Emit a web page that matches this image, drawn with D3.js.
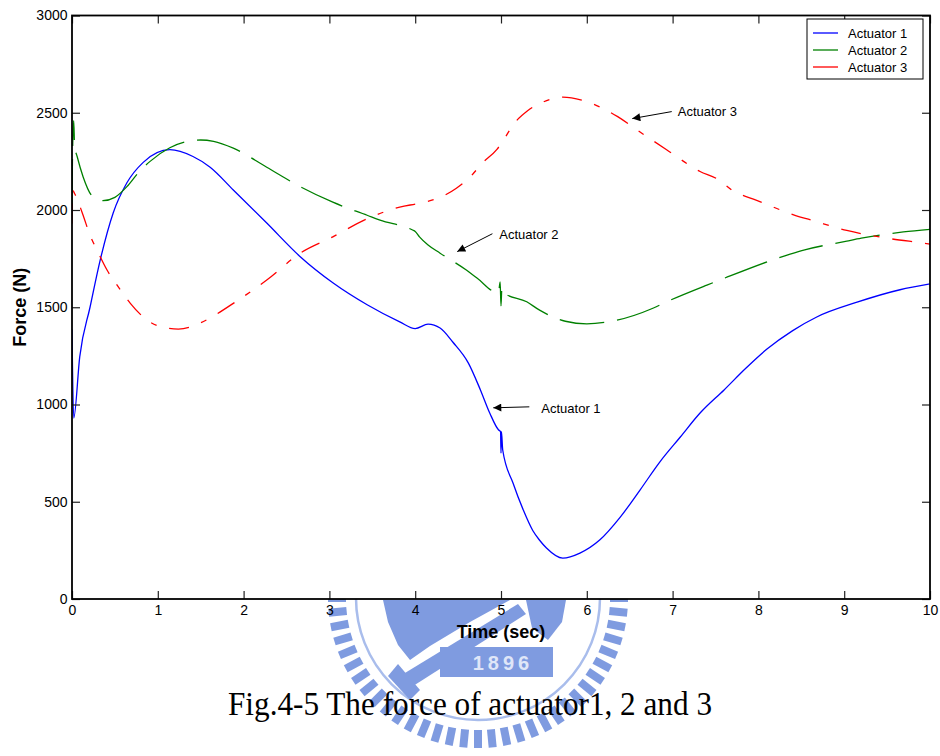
<!DOCTYPE html>
<html><head><meta charset="utf-8">
<script src="https://cdn.jsdelivr.net/npm/d3@7/dist/d3.min.js"></script>
<style>body{margin:0;background:#fff}svg{display:block}</style>
</head><body>
<svg id="c" width="940" height="756"></svg>
<script>
// ---------- data ----------
const seriesNames = ["Actuator 1", "Actuator 2", "Actuator 3"];
const seriesColors = ["#0000ff", "#008000", "#ff0000"];

// [time (sec), force (N)]
const act1 = [[0,1385],[0.02,930],[0.09,1245],[0.21,1500],[0.33,1745],[0.48,1985],[0.64,2140],[0.83,2245],
  [1.14,2310],[1.41,2275],[1.61,2220],[1.88,2103],[2.27,1933],[2.66,1760],[3.04,1626],[3.44,1513],[3.82,1425],
  [4.0,1390],[4.15,1413],[4.29,1393],[4.44,1320],[4.62,1213],[4.76,1075],[4.87,955],[4.97,870],[4.995,860],
  [5.0,750],[5.005,860],[5.02,766],[5.14,596],[5.26,457],[5.37,352],[5.45,302],[5.53,262],[5.72,210],[5.92,236],
  [6.15,303],[6.39,421],[6.62,560],[6.85,704],[7.09,833],[7.32,956],[7.6,1075],[7.85,1185],[8.1,1285],[8.4,1380],
  [8.68,1450],[9.15,1526],[9.65,1590],[10,1620]];
const act2 = [[0,2030],[0.005,2250],[0.02,2460],[0.03,2330],[0.06,2275],[0.13,2170],[0.25,2065],[0.36,2048],
  [0.5,2065],[0.64,2120],[0.77,2190],[0.91,2250],[1.14,2320],[1.34,2352],[1.5,2360],[1.65,2353],[1.88,2318],
  [2.27,2220],[2.66,2120],[3.04,2040],[3.44,1973],[3.59,1948],[3.97,1897],[4.0,1890],[4.05,1862],[4.15,1820],
  [4.29,1778],[4.6,1690],[4.72,1650],[4.97,1573],[4.99,1630],[5.0,1507],[5.01,1600],[5.03,1575],[5.3,1528],
  [5.45,1485],[5.75,1428],[6.0,1415],[6.25,1425],[6.77,1495],[6.93,1528],[7.4,1614],[7.55,1640],[8.37,1773],
  [8.54,1795],[9.03,1840],[9.2,1855],[9.69,1887],[10,1900]];
const act3 = [[0,1930],[0.01,2100],[0.03,2085],[0.12,1985],[0.21,1870],[0.29,1795],[0.41,1690],[0.54,1605],
  [0.68,1520],[0.83,1450],[1.03,1400],[1.24,1388],[1.49,1418],[1.61,1445],[1.88,1520],[2.27,1640],[2.66,1778],
  [3.04,1862],[3.44,1955],[3.82,2015],[4.05,2035],[4.29,2065],[4.48,2112],[4.64,2170],[4.79,2245],[4.95,2310],
  [5.03,2360],[5.14,2437],[5.31,2510],[5.49,2555],[5.72,2580],[5.94,2565],[6.15,2530],[6.36,2480],[6.58,2413],
  [6.93,2310],[7.32,2198],[7.52,2160],[7.7,2100],[7.98,2050],[8.48,1965],[8.6,1950],[9.03,1895],[9.5,1855],
  [9.92,1830],[10,1825]];

const xTicks = [0,1,2,3,4,5,6,7,8,9,10];
const yTicks = [0,500,1000,1500,2000,2500,3000];

// annotations: label position, arrow tail, arrow tip (time, force)
const noteLabels = ["Actuator 1", "Actuator 2", "Actuator 3"];
const noteText = [[5.47,978],[4.98,1873],[7.06,2506]];
const noteTail = [[5.33,988],[4.90,1878],[6.99,2506]];
const noteTip  = [[4.91,983],[4.49,1786],[6.53,2470]];

const xLabel = "Time (sec)";
const yLabel = "Force (N)";
const caption = "Fig.4-5 The force of actuator1, 2 and 3";
const wmYear = "1896";

// ---------- drawing ----------
const svg = d3.select("#c");
const L = 72, R = 930, T = 15.5, B = 599;
const x = d3.scaleLinear().domain([0,10]).range([L,R]);
const y = d3.scaleLinear().domain([0,3000]).range([B,T]);
const sans = "Arial, 'Liberation Sans', Helvetica, sans-serif";

// watermark (university emblem, pale blue)
const wm = svg.append("g").attr("fill","#7f9be0").attr("stroke","none");
const cx = 478, cy = 598;
const nTeeth = 64;
for (let i = 0; i < nTeeth; i++) {
  const a = i * 360 / nTeeth;
  wm.append("rect").attr("x", -4).attr("y", 132).attr("width", 8).attr("height", 18)
    .attr("transform", `translate(${cx},${cy}) rotate(${a})`);
}
wm.append("circle").attr("cx",cx).attr("cy",cy).attr("r",122).attr("fill","none")
  .attr("stroke","#a9bdec").attr("stroke-width",2.5);
wm.append("path").attr("d","M383,600 L510,600 L470,622 L430,646 L410,660 L398,645 L388,622 Z");
wm.append("path").attr("d","M526,600 L566,600 L562,622 L548,640 L532,628 Z");
wm.append("path").attr("d","M400,676 L518,604 L526,614 L410,688 Z");
wm.append("path").attr("d","M398,664 L420,690 L410,700 L388,676 Z");
wm.append("rect").attr("x",440).attr("y",647).attr("width",113).attr("height",30);
wm.append("text").attr("x",503).attr("y",663).attr("text-anchor","middle").attr("dominant-baseline","central")
  .attr("fill","#dfe6f8").attr("font-family",sans).attr("font-weight","bold").attr("font-size",20)
  .attr("letter-spacing",4).text(wmYear);

// plot background
svg.append("rect").attr("x",L).attr("y",T).attr("width",R-L).attr("height",B-T).attr("fill","#fff");

// clip
svg.append("clipPath").attr("id","clip").append("rect").attr("x",L).attr("y",T).attr("width",R-L).attr("height",B-T);

// lines
const line = d3.line().x(d=>x(d[0])).y(d=>y(d[1])).curve(d3.curveMonotoneX);
const series = [act1, act2, act3];
const dashes = [null, "45,13", "20,13,6,13"];
const lg = svg.append("g").attr("clip-path","url(#clip)");
series.forEach((s,i)=>{
  lg.append("path").datum(s).attr("d",line).attr("fill","none")
    .attr("stroke",seriesColors[i]).attr("stroke-width",1.3)
    .attr("stroke-dasharray",dashes[i]);
});

// axes
const fmt = d3.format("d");
const gL = svg.append("g").attr("transform",`translate(${L},0)`)
  .call(d3.axisLeft(y).tickValues(yTicks).tickFormat(fmt).tickSize(-8).tickPadding(4.5));
const gB = svg.append("g").attr("transform",`translate(0,${B})`)
  .call(d3.axisBottom(x).tickValues(xTicks).tickFormat(fmt).tickSize(-8).tickPadding(6));
const gR = svg.append("g").attr("transform",`translate(${R},0)`)
  .call(d3.axisRight(y).tickValues(yTicks).tickFormat("").tickSize(-8));
const gT = svg.append("g").attr("transform",`translate(0,${T})`)
  .call(d3.axisTop(x).tickValues(xTicks).tickFormat("").tickSize(-8));
[gL,gB,gR,gT].forEach(g=>{
  g.select(".domain").remove();
  g.selectAll(".tick line").attr("stroke","#222").attr("stroke-width",1.2);
  g.selectAll("text").attr("font-family",sans).attr("font-size",14).attr("fill","#000");
});
svg.append("rect").attr("x",L).attr("y",T).attr("width",R-L).attr("height",B-T)
  .attr("fill","none").attr("stroke","#000").attr("stroke-width",1.8);

// axis labels
svg.append("text").attr("x",(x(0)+x(10))/2).attr("y",638).attr("text-anchor","middle")
  .attr("font-family",sans).attr("font-weight","bold").attr("font-size",18).text(xLabel);
svg.append("text").attr("transform",`translate(26,${y(1500)}) rotate(-90)`).attr("text-anchor","middle")
  .attr("font-family",sans).attr("font-weight","bold").attr("font-size",18).text(yLabel);

// annotations
const defs = svg.append("defs");
defs.append("marker").attr("id","arr").attr("viewBox","0 0 10 10").attr("refX",10).attr("refY",5)
  .attr("markerWidth",12).attr("markerHeight",8).attr("markerUnits","userSpaceOnUse").attr("orient","auto")
  .append("path").attr("d","M0,0 L10,5 L0,10 Z").attr("fill","#000");
noteLabels.forEach((lab,i)=>{
  svg.append("line").attr("x1",x(noteTail[i][0])).attr("y1",y(noteTail[i][1]))
    .attr("x2",x(noteTip[i][0])).attr("y2",y(noteTip[i][1]))
    .attr("stroke","#000").attr("stroke-width",1).attr("marker-end","url(#arr)");
  svg.append("text").attr("x",x(noteText[i][0])).attr("y",y(noteText[i][1]))
    .attr("dominant-baseline","central").attr("font-family",sans).attr("font-size",13).text(lab);
});

// legend
const leg = svg.append("g");
leg.append("rect").attr("x",807).attr("y",19).attr("width",116).attr("height",60)
  .attr("fill","#fff").attr("stroke","#000").attr("stroke-width",1);
seriesNames.forEach((n,i)=>{
  const yy = 33 + i*17;
  leg.append("line").attr("x1",813).attr("x2",838).attr("y1",yy).attr("y2",yy)
    .attr("stroke",seriesColors[i]).attr("stroke-width",1.3);
  leg.append("text").attr("x",848).attr("y",yy).attr("dominant-baseline","central")
    .attr("font-family",sans).attr("font-size",13).text(n);
});

// caption
svg.append("text").attr("x",470).attr("y",715).attr("text-anchor","middle")
  .attr("font-family","'Times New Roman', 'Liberation Serif', serif").attr("font-size",34)
  .attr("textLength",484).attr("lengthAdjust","spacingAndGlyphs").text(caption);
</script>
</body></html>
